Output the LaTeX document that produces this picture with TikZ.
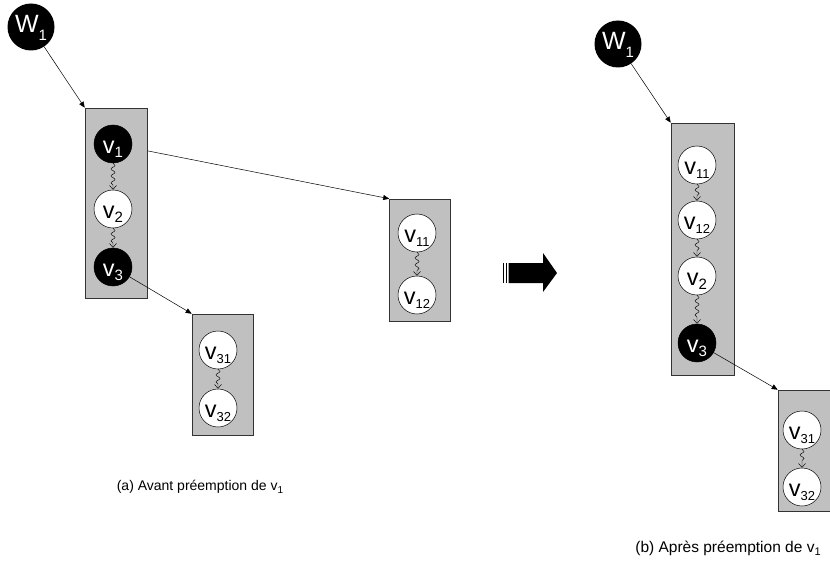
\documentclass[tikz,border=0pt]{standalone}
\usepackage{fontspec}
\setmainfont{Liberation Sans}
\usetikzlibrary{arrows.meta,decorations.pathmorphing,calc}
% task label: big letter, lowered subscript, text set a little below centre
\newcommand\lbl[3][15]{\raisebox{-9.5pt}[0pt][0pt]{{\fontsize{23.5}{23}\selectfont #2}\raisebox{-4pt}{\fontsize{#1}{#1}\selectfont #3}}}
\newcommand\wlbl[2]{\raisebox{-6pt}[0pt][0pt]{{\fontsize{25}{25}\selectfont #1}\raisebox{-8pt}{\fontsize{15}{15}\selectfont #2}}}
\tikzset{
  task/.style={circle,draw=black,line width=0.5pt,fill=white,minimum size=38pt,inner sep=0pt,text=black},
  btask/.style={task,fill=black,text=white},
  wnode/.style={circle,fill=black,minimum size=47pt,inner sep=0pt,text=white},
  grp/.style={rectangle,draw=black!80,line width=0.6pt,fill={rgb,255:red,192;green,192;blue,192},inner sep=0pt},
  link/.style={line width=0.5pt,-{Triangle[length=6pt,width=5pt]}},
  wavy/.style={line width=0.45pt,decorate,decoration={snake,amplitude=2pt,segment length=7pt,post length=4pt},-{Straight Barb[length=4pt,width=7pt]}},
  captext/.style={font=\fontsize{14}{16}\selectfont},
  captextb/.style={font=\fontsize{15.5}{17}\selectfont}
}
\begin{document}
\begin{tikzpicture}[x=1pt,y=-1pt]
\useasboundingbox (0,0) rectangle (830,567);
% ---------- (a) ----------
\node[wnode] (w1) at (31,27) {\wlbl{W}{1}};
\node[grp,minimum width=61pt,minimum height=122pt] (b2) at (420,260) {};
\coordinate (c1) at (113,144);
\draw[link] (c1) -- (b2.north west);
\node[grp,minimum width=62pt,minimum height=190pt] (b1) at (116,203) {};
\node[grp,minimum width=61pt,minimum height=121pt] (b3) at (222.5,374.5) {};
\draw[link] (w1) -- (b1.north west);
\node[btask] (v1) at (113,144) {\lbl{v}{1}};
\node[task] (v2) at (113,209) {\lbl{v}{2}};
\node[btask] (v3) at (113,267) {\lbl{v}{3}};
\draw[wavy] (v1) -- (v2);
\draw[wavy] (v2) -- (v3);
\draw[link] (v3) -- (b3.north west);
\node[task] (v11) at (417,233) {\lbl[13]{v}{11}};
\node[task] (v12) at (417,295) {\lbl[13]{v}{12}};
\draw[wavy] (v11) -- (v12);
\node[task] (v31) at (218,350) {\lbl[13]{v}{31}};
\node[task] (v32) at (218,408) {\lbl[13]{v}{32}};
\draw[wavy] (v31) -- (v32);
\node[captext] (capa) at (200,487) {(a) Avant préemption de v\raisebox{-3pt}{\fontsize{10}{10}\selectfont 1}};
% ---------- big arrow ----------
\fill (503,263) rectangle (504.3,283);
\fill (505.6,263) rectangle (507.2,283);
\fill (508.5,263) -- (543,263) -- (543,253) -- (557,273) -- (543,292) -- (543,283) -- (508.5,283) -- cycle;
% ---------- (b) ----------
\node[wnode] (rw1) at (618,44) {\wlbl{W}{1}};
\node[grp,minimum width=63pt,minimum height=252pt] (rb1) at (702.5,249) {};
\node[grp,minimum width=62pt,minimum height=121pt] (rb3) at (809,450.5) {};
\draw[link] (rw1) -- (rb1.north west);
\node[task] (rv11) at (697,165) {\lbl[13]{v}{11}};
\node[task] (rv12) at (697,220) {\lbl[13]{v}{12}};
\node[task] (rv2) at (697,276) {\lbl{v}{2}};
\node[btask] (rv3) at (697,343) {\lbl{v}{3}};
\draw[wavy] (rv11) -- (rv12);
\draw[wavy] (rv12) -- (rv2);
\draw[wavy] (rv2) -- (rv3);
\draw[link] (rv3) -- (rb3.north west);
\node[task] (rv31) at (802,430) {\lbl[13]{v}{31}};
\node[task] (rv32) at (802,487) {\lbl[13]{v}{32}};
\draw[wavy] (rv31) -- (rv32);
\node[captextb] (capb) at (728,548) {(b) Après préemption de v\raisebox{-3pt}{\fontsize{11}{11}\selectfont 1}};
\end{tikzpicture}
\end{document}
